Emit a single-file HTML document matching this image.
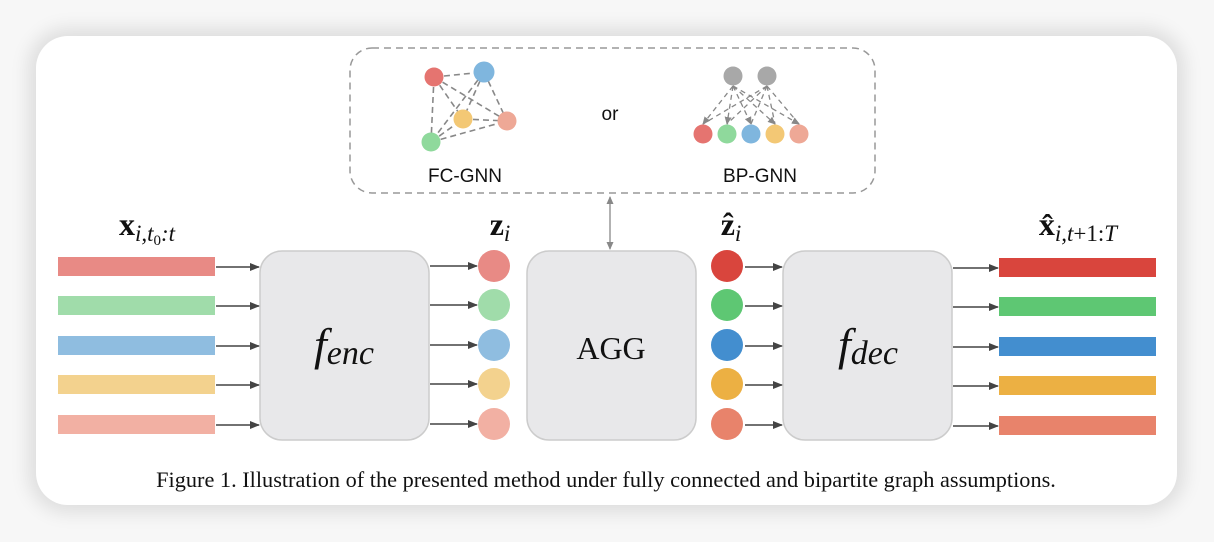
<!DOCTYPE html>
<html><head><meta charset="utf-8"><style>
body{margin:0;width:1214px;height:542px;background:#f7f7f7;overflow:hidden}
.card{position:absolute;left:36px;top:36px;width:1141px;height:469px;background:#fff;border-radius:32px;box-shadow:0 0 18px 8px rgba(0,0,0,0.10)}
svg{position:absolute;left:0;top:0}
</style></head><body>
<div class="card"></div>
<svg width="1214" height="542" viewBox="0 0 1214 542">
<defs>
<marker id="ah" markerWidth="10" markerHeight="8" refX="9" refY="4" orient="auto" markerUnits="userSpaceOnUse"><path d="M0,0 L10,4 L0,8z" fill="#444"/></marker>
<marker id="ag" markerWidth="8" markerHeight="7" refX="7" refY="3.5" orient="auto-start-reverse" markerUnits="userSpaceOnUse"><path d="M0,0 L8,3.5 L0,7z" fill="#888"/></marker>
</defs>
<rect x="350" y="48" width="525" height="145" rx="22" fill="none" stroke="#999" stroke-width="1.5" stroke-dasharray="7,5"/>
<g stroke="#888" stroke-width="1.6" stroke-dasharray="6,4">
<line x1="434" y1="77" x2="484" y2="72"/><line x1="434" y1="77" x2="507" y2="121"/><line x1="434" y1="77" x2="431" y2="142"/><line x1="434" y1="77" x2="463" y2="119"/>
<line x1="484" y1="72" x2="463" y2="119"/><line x1="484" y1="72" x2="431" y2="142"/><line x1="484" y1="72" x2="507" y2="121"/>
<line x1="463" y1="119" x2="507" y2="121"/><line x1="431" y1="142" x2="463" y2="119"/><line x1="431" y1="142" x2="507" y2="121"/>
</g>
<g stroke="#888" stroke-width="1.3" stroke-dasharray="5,4" fill="none">
<line x1="733" y1="86" x2="703" y2="124" marker-end="url(#ag)"/><line x1="733" y1="86" x2="727" y2="124" marker-end="url(#ag)"/><line x1="733" y1="86" x2="751" y2="124" marker-end="url(#ag)"/><line x1="733" y1="86" x2="775" y2="124" marker-end="url(#ag)"/><line x1="733" y1="86" x2="799" y2="124" marker-end="url(#ag)"/>
<line x1="767" y1="86" x2="703" y2="124"/><line x1="767" y1="86" x2="727" y2="124"/><line x1="767" y1="86" x2="751" y2="124"/><line x1="767" y1="86" x2="775" y2="124"/><line x1="767" y1="86" x2="799" y2="124"/>
</g>
<circle cx="434" cy="77" r="9.5" fill="#e57470"/><circle cx="484" cy="72" r="10.5" fill="#7fb6de"/><circle cx="463" cy="119" r="9.5" fill="#f3c875"/><circle cx="507" cy="121" r="9.5" fill="#eea896"/><circle cx="431" cy="142" r="9.5" fill="#8fd99c"/>
<circle cx="733" cy="76" r="9.5" fill="#a8a8a8"/><circle cx="767" cy="76" r="9.5" fill="#a8a8a8"/>
<circle cx="703" cy="134" r="9.5" fill="#e57470"/><circle cx="727" cy="134" r="9.5" fill="#8fd99c"/><circle cx="751" cy="134" r="9.5" fill="#7fb6de"/><circle cx="775" cy="134" r="9.5" fill="#f3c875"/><circle cx="799" cy="134" r="9.5" fill="#eea896"/>
<g font-family="Liberation Sans,sans-serif" font-size="19" fill="#111" text-anchor="middle">
<text x="465" y="182">FC-GNN</text><text x="760" y="182">BP-GNN</text><text x="610" y="120">or</text></g>
<line x1="610" y1="197" x2="610" y2="249" stroke="#888" stroke-width="1.3" marker-start="url(#ag)" marker-end="url(#ag)"/>
<g stroke="#ccc" stroke-width="1.5" fill="#e8e8ea">
<rect x="260" y="251" width="169" height="189" rx="22"/><rect x="527" y="251" width="169" height="189" rx="22"/><rect x="783" y="251" width="169" height="189" rx="22"/></g>
<rect x="58" y="257" width="157" height="19" fill="#e88a85"/><rect x="58" y="296" width="157" height="19" fill="#a0dcaa"/><rect x="58" y="336" width="157" height="19" fill="#8fbde0"/><rect x="58" y="375" width="157" height="19" fill="#f3d28e"/><rect x="58" y="415" width="157" height="19" fill="#f2b0a3"/>
<rect x="999" y="258" width="157" height="19" fill="#d9453d"/><rect x="999" y="297" width="157" height="19" fill="#5ec773"/><rect x="999" y="337" width="157" height="19" fill="#438ecf"/><rect x="999" y="376" width="157" height="19" fill="#ecb043"/><rect x="999" y="416" width="157" height="19" fill="#e8836b"/>
<circle cx="494" cy="266" r="16" fill="#e88a85"/><circle cx="494" cy="305" r="16" fill="#a0dcaa"/><circle cx="494" cy="345" r="16" fill="#8fbde0"/><circle cx="494" cy="384" r="16" fill="#f3d28e"/><circle cx="494" cy="424" r="16" fill="#f2b0a3"/>
<circle cx="727" cy="266" r="16" fill="#d9453d"/><circle cx="727" cy="305" r="16" fill="#5ec773"/><circle cx="727" cy="345" r="16" fill="#438ecf"/><circle cx="727" cy="384" r="16" fill="#ecb043"/><circle cx="727" cy="424" r="16" fill="#e8836b"/>
<g stroke="#444" stroke-width="1.5" marker-end="url(#ah)">
<line x1="216" y1="267" x2="259" y2="267"/><line x1="216" y1="306" x2="259" y2="306"/><line x1="216" y1="346" x2="259" y2="346"/><line x1="216" y1="385" x2="259" y2="385"/><line x1="216" y1="425" x2="259" y2="425"/>
<line x1="430" y1="266" x2="477" y2="266"/><line x1="430" y1="305" x2="477" y2="305"/><line x1="430" y1="345" x2="477" y2="345"/><line x1="430" y1="384" x2="477" y2="384"/><line x1="430" y1="424" x2="477" y2="424"/>
<line x1="745" y1="267" x2="782" y2="267"/><line x1="745" y1="306" x2="782" y2="306"/><line x1="745" y1="346" x2="782" y2="346"/><line x1="745" y1="385" x2="782" y2="385"/><line x1="745" y1="425" x2="782" y2="425"/>
<line x1="953" y1="268" x2="998" y2="268"/><line x1="953" y1="307" x2="998" y2="307"/><line x1="953" y1="347" x2="998" y2="347"/><line x1="953" y1="386" x2="998" y2="386"/><line x1="953" y1="426" x2="998" y2="426"/>
</g>
<g font-family="Liberation Serif,serif" fill="#111" text-anchor="middle">
<text x="344" y="360" font-size="46" font-style="italic">f<tspan font-size="34" dy="4">enc</tspan></text>
<text x="611" y="359" font-size="32">AGG</text>
<text x="868" y="360" font-size="46" font-style="italic">f<tspan font-size="34" dy="4">dec</tspan></text>
<text x="147" y="235" font-size="32"><tspan font-weight="bold">x</tspan><tspan font-size="23" font-style="italic" dy="6">i,t</tspan><tspan font-size="15" dy="4">0</tspan><tspan font-size="23" font-style="italic" dy="-4">:t</tspan></text>
<text x="500" y="235" font-size="32"><tspan font-weight="bold">z</tspan><tspan font-size="23" font-style="italic" dy="6">i</tspan></text>
<text x="731" y="235" font-size="32"><tspan font-weight="bold">ẑ</tspan><tspan font-size="23" font-style="italic" dy="6">i</tspan></text>
<text x="1078" y="235" font-size="32"><tspan font-weight="bold">x̂</tspan><tspan font-size="23" dy="6"><tspan font-style="italic">i,t</tspan>+1:<tspan font-style="italic">T</tspan></tspan></text>
<text x="606" y="487" font-size="22.3">Figure 1. Illustration of the presented method under fully connected and bipartite graph assumptions.</text>
</g>
</svg>
</body></html>
